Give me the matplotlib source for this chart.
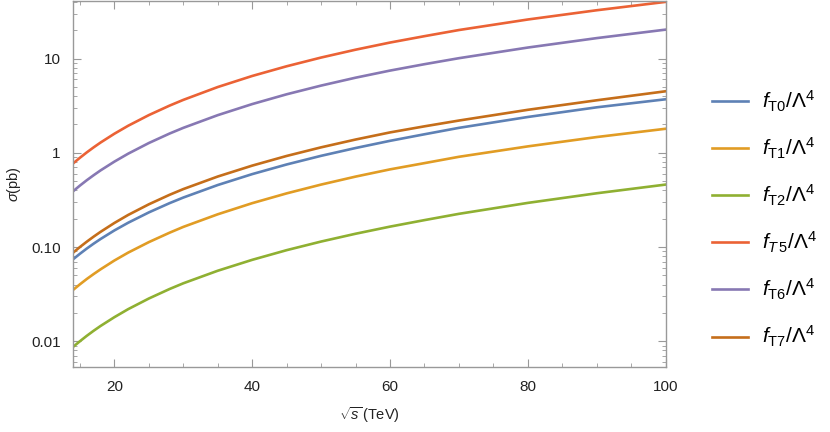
import numpy as np
import matplotlib.pyplot as plt
from matplotlib.ticker import FixedLocator, FixedFormatter, LogLocator, NullFormatter, MultipleLocator

plt.rcParams['font.family'] = ['Liberation Sans', 'DejaVu Sans']
plt.rcParams['mathtext.fontset'] = 'custom'
plt.rcParams['mathtext.rm'] = 'Liberation Sans'
plt.rcParams['mathtext.it'] = 'Liberation Sans:italic'
plt.rcParams['mathtext.bf'] = 'Liberation Sans:bold'

# sqrt(s) in TeV
energy = [14, 15, 16, 17, 18, 20, 22, 25, 28, 30, 35, 40, 45, 50, 55, 60, 65, 70, 80, 90, 100]

# cross sections in pb
sigma_T0 = [0.074, 0.0848, 0.0964, 0.1087, 0.1217, 0.150, 0.181, 0.233, 0.292, 0.335,
            0.455, 0.594, 0.752, 0.929, 1.124, 1.34, 1.573, 1.84, 2.40, 3.04, 3.7]
sigma_T1 = [0.035, 0.0402, 0.0458, 0.0517, 0.0580, 0.0719, 0.0872, 0.1127, 0.1418, 0.1635,
            0.2225, 0.292, 0.371, 0.460, 0.559, 0.667, 0.777, 0.907, 1.17, 1.47, 1.8]
sigma_T2 = [0.0087, 0.0100, 0.01142, 0.01293, 0.01453, 0.0180, 0.0219, 0.0284, 0.0358, 0.0412,
            0.0560, 0.0731, 0.0926, 0.1143, 0.1383, 0.1646, 0.193, 0.225, 0.294, 0.372, 0.46]
sigma_T5 = [0.77, 0.886, 1.011, 1.144, 1.286, 1.594, 1.937, 2.513, 3.167, 3.645,
            4.99, 6.54, 8.29, 10.26, 12.43, 14.8, 17.3, 20.1, 26.0, 32.6, 40.0]
sigma_T6 = [0.39, 0.449, 0.512, 0.579, 0.651, 0.806, 0.979, 1.27, 1.60, 1.84,
            2.51, 3.29, 4.18, 5.17, 6.27, 7.46, 8.72, 10.1, 13.1, 16.5, 20.3]
sigma_T7 = [0.087, 0.100, 0.114, 0.129, 0.145, 0.180, 0.219, 0.284, 0.358, 0.412,
            0.560, 0.731, 0.926, 1.143, 1.383, 1.646, 1.91, 2.20, 2.86, 3.61, 4.5]

labels = [r'$f_{\rm T0}/\Lambda^4$', r'$f_{\rm T1}/\Lambda^4$', r'$f_{\rm T2}/\Lambda^4$',
          r'$f_{T\,5}/\Lambda^4$', r'$f_{\rm T6}/\Lambda^4$', r'$f_{\rm T7}/\Lambda^4$']
colors = ['#5E81B5', '#E19C24', '#8FB032', '#EB6235', '#8778B3', '#C56E1A']
series = [sigma_T0, sigma_T1, sigma_T2, sigma_T5, sigma_T6, sigma_T7]

fig = plt.figure(figsize=(8.3, 4.32), dpi=100)
ax = fig.add_axes([0.088, 0.150, 0.714, 0.848])

for ys, c, lab in zip(series, colors, labels):
    ax.plot(energy, ys, color=c, lw=1.9, label=lab)

ax.set_yscale('log')
ax.set_xlim(14, 100)
ax.set_ylim(0.0053, 41)

ax.xaxis.set_major_locator(MultipleLocator(20))
ax.xaxis.set_minor_locator(MultipleLocator(5))
ax.yaxis.set_major_locator(FixedLocator([0.01, 0.1, 1, 10]))
ax.yaxis.set_major_formatter(FixedFormatter(['0.01', '0.10', '1', '10']))
ax.yaxis.set_minor_locator(LogLocator(base=10, subs=np.arange(2, 10), numticks=20))
ax.yaxis.set_minor_formatter(NullFormatter())

for s in ax.spines.values():
    s.set_color('#999999')
    s.set_linewidth(1.0)
ax.tick_params(which='both', direction='in', top=True, right=True, color='#999999',
               labelsize=11, labelcolor='#222222')
ax.tick_params(which='major', length=5.5, width=0.8, pad=9)
ax.tick_params(which='minor', length=3, width=0.6)

ax.set_xlabel(r'$\sqrt{s}\,$(TeV)', fontsize=10.5, color='#222222', labelpad=8)
ax.set_ylabel(r'$\sigma$(pb)', fontsize=10.5, color='#222222', labelpad=6)

fig.legend(loc='center left', bbox_to_anchor=(0.835, 0.493), frameon=False,
           fontsize=15, handlelength=1.75, handletextpad=0.65, labelspacing=1.05)

fig.savefig('out.png', dpi=100)
